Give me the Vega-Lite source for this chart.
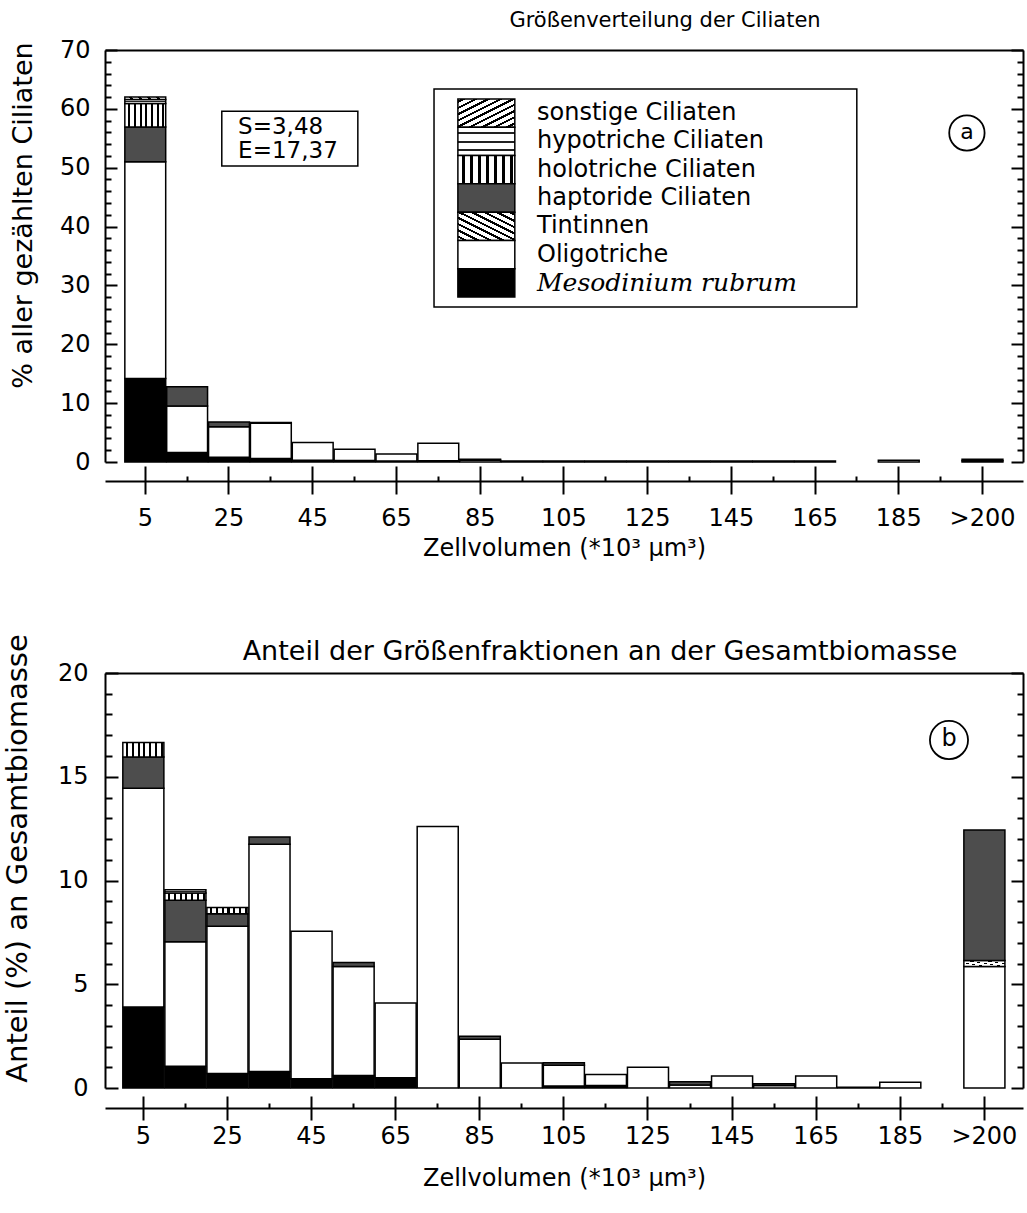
{
  "$schema": "https://vega.github.io/schema/vega-lite/v6.json",
  "autosize": {"type": "pad"},
  "padding": {"left": 2, "top": 10, "right": 4, "bottom": 4},
  "background": "white",
  "config": {
    "font": "DejaVu Sans",
    "view": {"stroke": null},
    "axis": {
      "domainColor": "#000", "tickColor": "#000", "labelColor": "#000", "titleColor": "#000",
      "titleFontWeight": "normal", "grid": false, "labelFontSize": 24, "titleFontSize": 24,
      "domainWidth": 2, "tickWidth": 2, "labelFont": "DejaVu Sans", "titleFont": "DejaVu Sans",
      "labelOverlap": false, "labelFlush": false
    },
    "title": {"fontWeight": "normal", "color": "#000", "font": "DejaVu Sans"},
    "text": {"font": "DejaVu Sans", "color": "#000"}
  },
  "datasets": {
    "anteilA": [
      {"von": 0, "bis": 10, "Gruppe": "Mesodinium rubrum", "k": 1, "Anteil": 14.2},
      {"von": 0, "bis": 10, "Gruppe": "Oligotriche", "k": 2, "Anteil": 36.8},
      {"von": 0, "bis": 10, "Gruppe": "haptoride Ciliaten", "k": 4, "Anteil": 5.9},
      {"von": 0, "bis": 10, "Gruppe": "holotriche Ciliaten", "k": 5, "Anteil": 4.0},
      {"von": 0, "bis": 10, "Gruppe": "hypotriche Ciliaten", "k": 6, "Anteil": 0.7},
      {"von": 0, "bis": 10, "Gruppe": "sonstige Ciliaten", "k": 7, "Anteil": 0.4},
      {"von": 10, "bis": 20, "Gruppe": "Mesodinium rubrum", "k": 1, "Anteil": 1.6},
      {"von": 10, "bis": 20, "Gruppe": "Oligotriche", "k": 2, "Anteil": 7.9},
      {"von": 10, "bis": 20, "Gruppe": "haptoride Ciliaten", "k": 4, "Anteil": 3.3},
      {"von": 20, "bis": 30, "Gruppe": "Mesodinium rubrum", "k": 1, "Anteil": 0.8},
      {"von": 20, "bis": 30, "Gruppe": "Oligotriche", "k": 2, "Anteil": 5.2},
      {"von": 20, "bis": 30, "Gruppe": "haptoride Ciliaten", "k": 4, "Anteil": 0.8},
      {"von": 30, "bis": 40, "Gruppe": "Mesodinium rubrum", "k": 1, "Anteil": 0.6},
      {"von": 30, "bis": 40, "Gruppe": "Oligotriche", "k": 2, "Anteil": 6.0},
      {"von": 30, "bis": 40, "Gruppe": "haptoride Ciliaten", "k": 4, "Anteil": 0.1},
      {"von": 40, "bis": 50, "Gruppe": "Mesodinium rubrum", "k": 1, "Anteil": 0.3},
      {"von": 40, "bis": 50, "Gruppe": "Oligotriche", "k": 2, "Anteil": 3.0},
      {"von": 50, "bis": 60, "Gruppe": "Mesodinium rubrum", "k": 1, "Anteil": 0.25},
      {"von": 50, "bis": 60, "Gruppe": "Oligotriche", "k": 2, "Anteil": 1.9},
      {"von": 60, "bis": 70, "Gruppe": "Mesodinium rubrum", "k": 1, "Anteil": 0.15},
      {"von": 60, "bis": 70, "Gruppe": "Oligotriche", "k": 2, "Anteil": 1.2},
      {"von": 70, "bis": 80, "Gruppe": "Mesodinium rubrum", "k": 1, "Anteil": 0.2},
      {"von": 70, "bis": 80, "Gruppe": "Oligotriche", "k": 2, "Anteil": 3.0},
      {"von": 80, "bis": 90, "Gruppe": "Oligotriche", "k": 2, "Anteil": 0.3},
      {"von": 80, "bis": 90, "Gruppe": "haptoride Ciliaten", "k": 4, "Anteil": 0.15},
      {"von": 90, "bis": 100, "Gruppe": "Oligotriche", "k": 2, "Anteil": 0.15},
      {"von": 100, "bis": 110, "Gruppe": "Oligotriche", "k": 2, "Anteil": 0.15},
      {"von": 110, "bis": 120, "Gruppe": "Oligotriche", "k": 2, "Anteil": 0.15},
      {"von": 120, "bis": 130, "Gruppe": "Oligotriche", "k": 2, "Anteil": 0.15},
      {"von": 130, "bis": 140, "Gruppe": "Oligotriche", "k": 2, "Anteil": 0.15},
      {"von": 140, "bis": 150, "Gruppe": "Oligotriche", "k": 2, "Anteil": 0.15},
      {"von": 150, "bis": 160, "Gruppe": "Oligotriche", "k": 2, "Anteil": 0.15},
      {"von": 160, "bis": 170, "Gruppe": "Oligotriche", "k": 2, "Anteil": 0.15},
      {"von": 180, "bis": 190, "Gruppe": "Oligotriche", "k": 2, "Anteil": 0.3},
      {"von": 200, "bis": 210, "Gruppe": "Oligotriche", "k": 2, "Anteil": 0.2},
      {"von": 200, "bis": 210, "Gruppe": "haptoride Ciliaten", "k": 4, "Anteil": 0.25}
    ],
    "anteilB": [
      {"von": 0, "bis": 10, "Gruppe": "Mesodinium rubrum", "k": 1, "Anteil": 3.9},
      {"von": 0, "bis": 10, "Gruppe": "Oligotriche", "k": 2, "Anteil": 10.55},
      {"von": 0, "bis": 10, "Gruppe": "haptoride Ciliaten", "k": 4, "Anteil": 1.5},
      {"von": 0, "bis": 10, "Gruppe": "holotriche Ciliaten", "k": 5, "Anteil": 0.7},
      {"von": 10, "bis": 20, "Gruppe": "Mesodinium rubrum", "k": 1, "Anteil": 1.05},
      {"von": 10, "bis": 20, "Gruppe": "Oligotriche", "k": 2, "Anteil": 6.0},
      {"von": 10, "bis": 20, "Gruppe": "haptoride Ciliaten", "k": 4, "Anteil": 2.0},
      {"von": 10, "bis": 20, "Gruppe": "holotriche Ciliaten", "k": 5, "Anteil": 0.35},
      {"von": 10, "bis": 20, "Gruppe": "hypotriche Ciliaten", "k": 6, "Anteil": 0.15},
      {"von": 20, "bis": 30, "Gruppe": "Mesodinium rubrum", "k": 1, "Anteil": 0.7},
      {"von": 20, "bis": 30, "Gruppe": "Oligotriche", "k": 2, "Anteil": 7.1},
      {"von": 20, "bis": 30, "Gruppe": "haptoride Ciliaten", "k": 4, "Anteil": 0.6},
      {"von": 20, "bis": 30, "Gruppe": "holotriche Ciliaten", "k": 5, "Anteil": 0.3},
      {"von": 30, "bis": 40, "Gruppe": "Mesodinium rubrum", "k": 1, "Anteil": 0.8},
      {"von": 30, "bis": 40, "Gruppe": "Oligotriche", "k": 2, "Anteil": 10.95},
      {"von": 30, "bis": 40, "Gruppe": "haptoride Ciliaten", "k": 4, "Anteil": 0.35},
      {"von": 40, "bis": 50, "Gruppe": "Mesodinium rubrum", "k": 1, "Anteil": 0.45},
      {"von": 40, "bis": 50, "Gruppe": "Oligotriche", "k": 2, "Anteil": 7.1},
      {"von": 50, "bis": 60, "Gruppe": "Mesodinium rubrum", "k": 1, "Anteil": 0.6},
      {"von": 50, "bis": 60, "Gruppe": "Oligotriche", "k": 2, "Anteil": 5.25},
      {"von": 50, "bis": 60, "Gruppe": "haptoride Ciliaten", "k": 4, "Anteil": 0.2},
      {"von": 60, "bis": 70, "Gruppe": "Mesodinium rubrum", "k": 1, "Anteil": 0.5},
      {"von": 60, "bis": 70, "Gruppe": "Oligotriche", "k": 2, "Anteil": 3.6},
      {"von": 70, "bis": 80, "Gruppe": "Oligotriche", "k": 2, "Anteil": 12.6},
      {"von": 80, "bis": 90, "Gruppe": "Oligotriche", "k": 2, "Anteil": 2.35},
      {"von": 80, "bis": 90, "Gruppe": "haptoride Ciliaten", "k": 4, "Anteil": 0.15},
      {"von": 90, "bis": 100, "Gruppe": "Oligotriche", "k": 2, "Anteil": 1.2},
      {"von": 100, "bis": 110, "Gruppe": "Mesodinium rubrum", "k": 1, "Anteil": 0.1},
      {"von": 100, "bis": 110, "Gruppe": "Oligotriche", "k": 2, "Anteil": 1.0},
      {"von": 100, "bis": 110, "Gruppe": "haptoride Ciliaten", "k": 4, "Anteil": 0.12},
      {"von": 110, "bis": 120, "Gruppe": "Mesodinium rubrum", "k": 1, "Anteil": 0.12},
      {"von": 110, "bis": 120, "Gruppe": "Oligotriche", "k": 2, "Anteil": 0.53},
      {"von": 120, "bis": 130, "Gruppe": "Oligotriche", "k": 2, "Anteil": 1.0},
      {"von": 130, "bis": 140, "Gruppe": "Oligotriche", "k": 2, "Anteil": 0.15},
      {"von": 130, "bis": 140, "Gruppe": "haptoride Ciliaten", "k": 4, "Anteil": 0.15},
      {"von": 140, "bis": 150, "Gruppe": "Oligotriche", "k": 2, "Anteil": 0.58},
      {"von": 150, "bis": 160, "Gruppe": "Oligotriche", "k": 2, "Anteil": 0.12},
      {"von": 150, "bis": 160, "Gruppe": "haptoride Ciliaten", "k": 4, "Anteil": 0.08},
      {"von": 160, "bis": 170, "Gruppe": "Oligotriche", "k": 2, "Anteil": 0.58},
      {"von": 170, "bis": 180, "Gruppe": "Oligotriche", "k": 2, "Anteil": 0.04},
      {"von": 180, "bis": 190, "Gruppe": "Oligotriche", "k": 2, "Anteil": 0.28},
      {"von": 200, "bis": 210, "Gruppe": "Oligotriche", "k": 2, "Anteil": 5.85},
      {"von": 200, "bis": 210, "Gruppe": "Tintinnen", "k": 3, "Anteil": 0.3},
      {"von": 200, "bis": 210, "Gruppe": "haptoride Ciliaten", "k": 4, "Anteil": 6.28}
    ],
    "legende": [
      {"Gruppe": "sonstige Ciliaten"},
      {"Gruppe": "hypotriche Ciliaten"},
      {"Gruppe": "holotriche Ciliaten"},
      {"Gruppe": "haptoride Ciliaten"},
      {"Gruppe": "Tintinnen"},
      {"Gruppe": "Oligotriche"},
      {"Gruppe": "Mesodinium rubrum"}
    ]
  },
  "vconcat": [
    {
      "width": 918,
      "height": 412,
      "title": {"text": "Größenverteilung der Ciliaten", "fontSize": 21, "dx": 101, "offset": 7},
      "data": {"name": "anteilA"},
      "resolve": {"scale": {"y": "independent"}, "axis": {"x": "independent", "y": "independent"}},
      "layer": [
        {
          "resolve": {"axis": {"x": "independent", "y": "independent"}},
          "layer": [
            {
              "mark": {"type": "bar", "orient": "vertical", "stroke": "#000", "strokeWidth": 1.5},
              "encoding": {
                "x": {"field": "von", "type": "quantitative", "bin": "binned",
                  "scale": {"domain": [-4.5, 214.8], "nice": false, "zero": false},
                  "axis": {"orient": "bottom", "offset": 19, "values": [5, 25, 45, 65, 85, 105, 125, 145, 165, 185, 205],
                    "tickSize": 13, "labelPadding": 12, "labelExpr": "datum.value > 200 ? '>200' : datum.label",
                    "title": "Zellvolumen (*10³ µm³)", "titlePadding": 6}},
                "x2": {"field": "bis"},
                "y": {"field": "Anteil", "type": "quantitative", "stack": "zero",
                  "scale": {"domain": [0, 70], "nice": false},
                  "axis": {"orient": "left", "values": [0, 10, 20, 30, 40, 50, 60, 70], "tickSize": -12, "labelPadding": 27,
                    "title": "% aller gezählten Ciliaten", "titleFontSize": 27, "titleAngle": -90, "titleX": -82, "titleY": 165,
                    "titleAlign": "center", "titleBaseline": "middle"}},
                "detail": {"field": "Gruppe"},
                "order": {"field": "k", "type": "quantitative"},
                "fill": {
                  "condition": [
                    {"test": "datum.Gruppe === 'Mesodinium rubrum'", "value": "#000"},
                    {"test": "datum.Gruppe === 'Tintinnen'", "value": {"gradient": "linear", "x1": 1, "y1": 0, "x2": 0, "y2": 1, "stops": [
                      {"offset": 0, "color": "#fff"}, {"offset": 0.03, "color": "#fff"}, {"offset": 0.03, "color": "#000"}, {"offset": 0.07, "color": "#000"}, {"offset": 0.07, "color": "#fff"},
                      {"offset": 0.14, "color": "#fff"}, {"offset": 0.14, "color": "#000"}, {"offset": 0.18, "color": "#000"}, {"offset": 0.18, "color": "#fff"},
                      {"offset": 0.25, "color": "#fff"}, {"offset": 0.25, "color": "#000"}, {"offset": 0.29, "color": "#000"}, {"offset": 0.29, "color": "#fff"},
                      {"offset": 0.36, "color": "#fff"}, {"offset": 0.36, "color": "#000"}, {"offset": 0.4, "color": "#000"}, {"offset": 0.4, "color": "#fff"},
                      {"offset": 0.47, "color": "#fff"}, {"offset": 0.47, "color": "#000"}, {"offset": 0.51, "color": "#000"}, {"offset": 0.51, "color": "#fff"},
                      {"offset": 0.58, "color": "#fff"}, {"offset": 0.58, "color": "#000"}, {"offset": 0.62, "color": "#000"}, {"offset": 0.62, "color": "#fff"},
                      {"offset": 0.69, "color": "#fff"}, {"offset": 0.69, "color": "#000"}, {"offset": 0.73, "color": "#000"}, {"offset": 0.73, "color": "#fff"},
                      {"offset": 0.8, "color": "#fff"}, {"offset": 0.8, "color": "#000"}, {"offset": 0.84, "color": "#000"}, {"offset": 0.84, "color": "#fff"},
                      {"offset": 0.91, "color": "#fff"}, {"offset": 0.91, "color": "#000"}, {"offset": 0.95, "color": "#000"}, {"offset": 0.95, "color": "#fff"},
                      {"offset": 1, "color": "#fff"}]}},
                    {"test": "datum.Gruppe === 'haptoride Ciliaten'", "value": "#4d4d4d"},
                    {"test": "datum.Gruppe === 'holotriche Ciliaten'", "value": {"gradient": "linear", "x1": 0, "y1": 0, "x2": 1, "y2": 0, "stops": [
                      {"offset": 0, "color": "#fff"}, {"offset": 0.08, "color": "#fff"}, {"offset": 0.08, "color": "#000"}, {"offset": 0.13, "color": "#000"}, {"offset": 0.13, "color": "#fff"},
                      {"offset": 0.22, "color": "#fff"}, {"offset": 0.22, "color": "#000"}, {"offset": 0.27, "color": "#000"}, {"offset": 0.27, "color": "#fff"},
                      {"offset": 0.36, "color": "#fff"}, {"offset": 0.36, "color": "#000"}, {"offset": 0.41, "color": "#000"}, {"offset": 0.41, "color": "#fff"},
                      {"offset": 0.5, "color": "#fff"}, {"offset": 0.5, "color": "#000"}, {"offset": 0.55, "color": "#000"}, {"offset": 0.55, "color": "#fff"},
                      {"offset": 0.64, "color": "#fff"}, {"offset": 0.64, "color": "#000"}, {"offset": 0.69, "color": "#000"}, {"offset": 0.69, "color": "#fff"},
                      {"offset": 0.78, "color": "#fff"}, {"offset": 0.78, "color": "#000"}, {"offset": 0.83, "color": "#000"}, {"offset": 0.83, "color": "#fff"},
                      {"offset": 0.92, "color": "#fff"}, {"offset": 0.92, "color": "#000"}, {"offset": 0.97, "color": "#000"}, {"offset": 0.97, "color": "#fff"},
                      {"offset": 1, "color": "#fff"}]}},
                    {"test": "datum.Gruppe === 'hypotriche Ciliaten'", "value": {"gradient": "linear", "x1": 0, "y1": 0, "x2": 0, "y2": 1, "stops": [
                      {"offset": 0, "color": "#fff"}, {"offset": 0.18, "color": "#fff"}, {"offset": 0.18, "color": "#222"}, {"offset": 0.25, "color": "#222"}, {"offset": 0.25, "color": "#fff"},
                      {"offset": 0.47, "color": "#fff"}, {"offset": 0.47, "color": "#222"}, {"offset": 0.54, "color": "#222"}, {"offset": 0.54, "color": "#fff"},
                      {"offset": 0.76, "color": "#fff"}, {"offset": 0.76, "color": "#222"}, {"offset": 0.83, "color": "#222"}, {"offset": 0.83, "color": "#fff"},
                      {"offset": 1, "color": "#fff"}]}},
                    {"test": "datum.Gruppe === 'sonstige Ciliaten'", "value": {"gradient": "linear", "x1": 0, "y1": 0, "x2": 1, "y2": 1, "stops": [
                      {"offset": 0, "color": "#fff"}, {"offset": 0.03, "color": "#fff"}, {"offset": 0.03, "color": "#000"}, {"offset": 0.07, "color": "#000"}, {"offset": 0.07, "color": "#fff"},
                      {"offset": 0.14, "color": "#fff"}, {"offset": 0.14, "color": "#000"}, {"offset": 0.18, "color": "#000"}, {"offset": 0.18, "color": "#fff"},
                      {"offset": 0.25, "color": "#fff"}, {"offset": 0.25, "color": "#000"}, {"offset": 0.29, "color": "#000"}, {"offset": 0.29, "color": "#fff"},
                      {"offset": 0.36, "color": "#fff"}, {"offset": 0.36, "color": "#000"}, {"offset": 0.4, "color": "#000"}, {"offset": 0.4, "color": "#fff"},
                      {"offset": 0.47, "color": "#fff"}, {"offset": 0.47, "color": "#000"}, {"offset": 0.51, "color": "#000"}, {"offset": 0.51, "color": "#fff"},
                      {"offset": 0.58, "color": "#fff"}, {"offset": 0.58, "color": "#000"}, {"offset": 0.62, "color": "#000"}, {"offset": 0.62, "color": "#fff"},
                      {"offset": 0.69, "color": "#fff"}, {"offset": 0.69, "color": "#000"}, {"offset": 0.73, "color": "#000"}, {"offset": 0.73, "color": "#fff"},
                      {"offset": 0.8, "color": "#fff"}, {"offset": 0.8, "color": "#000"}, {"offset": 0.84, "color": "#000"}, {"offset": 0.84, "color": "#fff"},
                      {"offset": 0.91, "color": "#fff"}, {"offset": 0.91, "color": "#000"}, {"offset": 0.95, "color": "#000"}, {"offset": 0.95, "color": "#fff"},
                      {"offset": 1, "color": "#fff"}]}}
                  ],
                  "value": "#fff"
                }
              }
            },
            {
              "mark": {"type": "point", "opacity": 0},
              "encoding": {
                "x": {"field": "von", "type": "quantitative",
                  "axis": {"orient": "bottom", "offset": 19, "values": [5, 25, 45, 65, 85, 105, 125, 145, 165, 185, 205], "tickSize": -15, "labels": false, "domain": false, "title": null}},
                "y": {"field": "Anteil", "type": "quantitative",
                  "axis": {"orient": "left", "values": [2, 4, 6, 8, 12, 14, 16, 18, 22, 24, 26, 28, 32, 34, 36, 38, 42, 44, 46, 48, 52, 54, 56, 58, 62, 64, 66, 68], "tickSize": -6, "labels": false, "domain": false, "title": null}}
              }
            },
            {
              "mark": {"type": "point", "opacity": 0},
              "encoding": {
                "x": {"field": "von", "type": "quantitative",
                  "axis": {"orient": "bottom", "offset": 19, "values": [15, 35, 55, 75, 95, 115, 135, 155, 175, 195], "tickSize": -5, "labels": false, "domain": false, "title": null}},
                "y": {"field": "Anteil", "type": "quantitative",
                  "axis": {"orient": "right", "values": [0, 10, 20, 30, 40, 50, 60, 70], "tickSize": -12, "labels": false, "domain": true, "title": null}}
              }
            },
            {
              "mark": {"type": "point", "opacity": 0},
              "encoding": {
                "x": {"field": "von", "type": "quantitative",
                  "axis": {"orient": "top", "ticks": false, "labels": false, "domain": true, "title": null}},
                "y": {"field": "Anteil", "type": "quantitative",
                  "axis": {"orient": "right", "values": [2, 4, 6, 8, 12, 14, 16, 18, 22, 24, 26, 28, 32, 34, 36, 38, 42, 44, 46, 48, 52, 54, 56, 58, 62, 64, 66, 68], "tickSize": -6, "labels": false, "domain": false, "title": null}}
              }
            },
            {
              "data": {"values": [{}]},
              "mark": {"type": "rect", "fill": null, "stroke": "#000", "strokeWidth": 1.5},
              "encoding": {
                "x": {"datum": 23.4, "axis": null}, "x2": {"datum": 55.9},
                "y": {"datum": 50.3, "axis": null}, "y2": {"datum": 59.6}
              }
            },
            {
              "data": {"values": [{}]},
              "mark": {"type": "text", "align": "left", "baseline": "middle", "fontSize": 23, "lineHeight": 24},
              "encoding": {
                "x": {"datum": 27.3, "axis": null},
                "y": {"datum": 56.9, "axis": null},
                "text": {"value": ["S=3,48", "E=17,37"]}
              }
            },
            {
              "data": {"values": [{"Teil": "a"}]},
              "layer": [
                {"mark": {"type": "point", "shape": "circle", "size": 1250, "filled": false, "stroke": "#000", "strokeWidth": 1.8, "opacity": 1}},
                {"mark": {"type": "text", "fontSize": 22, "baseline": "middle", "align": "center", "dy": -1}, "encoding": {"text": {"field": "Teil"}}}
              ],
              "encoding": {
                "x": {"datum": 201.4, "axis": null},
                "y": {"datum": 55.9, "axis": null}
              }
            },
            {
              "data": {"values": [{}]},
              "mark": {"type": "rect", "fill": null, "stroke": "#000", "strokeWidth": 1.5},
              "encoding": {
                "x": {"datum": 74.1, "axis": null}, "x2": {"datum": 175.1},
                "y": {"datum": 26.33, "axis": null}, "y2": {"datum": 63.37}
              }
            }
          ]
        },
        {
          "data": {"name": "legende"},
          "layer": [
            {
              "mark": {"type": "bar", "stroke": "#000", "strokeWidth": 1.5},
              "encoding": {
                "x": {"datum": 79.8, "axis": null},
                "x2": {"datum": 93.4},
                "y": {"field": "Gruppe", "type": "nominal", "sort": null,
                  "scale": {"domain": ["sonstige Ciliaten", "hypotriche Ciliaten", "holotriche Ciliaten", "haptoride Ciliaten", "Tintinnen", "Oligotriche", "Mesodinium rubrum"],
                    "paddingInner": 0, "paddingOuter": 0, "range": [49, 247]},
                  "axis": null},
                "fill": {
                  "condition": [
                    {"test": "datum.Gruppe === 'Mesodinium rubrum'", "value": "#000"},
                    {"test": "datum.Gruppe === 'Tintinnen'", "value": {"gradient": "linear", "x1": 1, "y1": 0, "x2": 0, "y2": 1, "stops": [
                      {"offset": 0, "color": "#fff"}, {"offset": 0.03, "color": "#fff"}, {"offset": 0.03, "color": "#000"}, {"offset": 0.07, "color": "#000"}, {"offset": 0.07, "color": "#fff"},
                      {"offset": 0.14, "color": "#fff"}, {"offset": 0.14, "color": "#000"}, {"offset": 0.18, "color": "#000"}, {"offset": 0.18, "color": "#fff"},
                      {"offset": 0.25, "color": "#fff"}, {"offset": 0.25, "color": "#000"}, {"offset": 0.29, "color": "#000"}, {"offset": 0.29, "color": "#fff"},
                      {"offset": 0.36, "color": "#fff"}, {"offset": 0.36, "color": "#000"}, {"offset": 0.4, "color": "#000"}, {"offset": 0.4, "color": "#fff"},
                      {"offset": 0.47, "color": "#fff"}, {"offset": 0.47, "color": "#000"}, {"offset": 0.51, "color": "#000"}, {"offset": 0.51, "color": "#fff"},
                      {"offset": 0.58, "color": "#fff"}, {"offset": 0.58, "color": "#000"}, {"offset": 0.62, "color": "#000"}, {"offset": 0.62, "color": "#fff"},
                      {"offset": 0.69, "color": "#fff"}, {"offset": 0.69, "color": "#000"}, {"offset": 0.73, "color": "#000"}, {"offset": 0.73, "color": "#fff"},
                      {"offset": 0.8, "color": "#fff"}, {"offset": 0.8, "color": "#000"}, {"offset": 0.84, "color": "#000"}, {"offset": 0.84, "color": "#fff"},
                      {"offset": 0.91, "color": "#fff"}, {"offset": 0.91, "color": "#000"}, {"offset": 0.95, "color": "#000"}, {"offset": 0.95, "color": "#fff"},
                      {"offset": 1, "color": "#fff"}]}},
                    {"test": "datum.Gruppe === 'haptoride Ciliaten'", "value": "#4d4d4d"},
                    {"test": "datum.Gruppe === 'holotriche Ciliaten'", "value": {"gradient": "linear", "x1": 0, "y1": 0, "x2": 1, "y2": 0, "stops": [
                      {"offset": 0, "color": "#fff"}, {"offset": 0.08, "color": "#fff"}, {"offset": 0.08, "color": "#000"}, {"offset": 0.13, "color": "#000"}, {"offset": 0.13, "color": "#fff"},
                      {"offset": 0.22, "color": "#fff"}, {"offset": 0.22, "color": "#000"}, {"offset": 0.27, "color": "#000"}, {"offset": 0.27, "color": "#fff"},
                      {"offset": 0.36, "color": "#fff"}, {"offset": 0.36, "color": "#000"}, {"offset": 0.41, "color": "#000"}, {"offset": 0.41, "color": "#fff"},
                      {"offset": 0.5, "color": "#fff"}, {"offset": 0.5, "color": "#000"}, {"offset": 0.55, "color": "#000"}, {"offset": 0.55, "color": "#fff"},
                      {"offset": 0.64, "color": "#fff"}, {"offset": 0.64, "color": "#000"}, {"offset": 0.69, "color": "#000"}, {"offset": 0.69, "color": "#fff"},
                      {"offset": 0.78, "color": "#fff"}, {"offset": 0.78, "color": "#000"}, {"offset": 0.83, "color": "#000"}, {"offset": 0.83, "color": "#fff"},
                      {"offset": 0.92, "color": "#fff"}, {"offset": 0.92, "color": "#000"}, {"offset": 0.97, "color": "#000"}, {"offset": 0.97, "color": "#fff"},
                      {"offset": 1, "color": "#fff"}]}},
                    {"test": "datum.Gruppe === 'hypotriche Ciliaten'", "value": {"gradient": "linear", "x1": 0, "y1": 0, "x2": 0, "y2": 1, "stops": [
                      {"offset": 0, "color": "#fff"}, {"offset": 0.18, "color": "#fff"}, {"offset": 0.18, "color": "#222"}, {"offset": 0.25, "color": "#222"}, {"offset": 0.25, "color": "#fff"},
                      {"offset": 0.47, "color": "#fff"}, {"offset": 0.47, "color": "#222"}, {"offset": 0.54, "color": "#222"}, {"offset": 0.54, "color": "#fff"},
                      {"offset": 0.76, "color": "#fff"}, {"offset": 0.76, "color": "#222"}, {"offset": 0.83, "color": "#222"}, {"offset": 0.83, "color": "#fff"},
                      {"offset": 1, "color": "#fff"}]}},
                    {"test": "datum.Gruppe === 'sonstige Ciliaten'", "value": {"gradient": "linear", "x1": 0, "y1": 0, "x2": 1, "y2": 1, "stops": [
                      {"offset": 0, "color": "#fff"}, {"offset": 0.03, "color": "#fff"}, {"offset": 0.03, "color": "#000"}, {"offset": 0.07, "color": "#000"}, {"offset": 0.07, "color": "#fff"},
                      {"offset": 0.14, "color": "#fff"}, {"offset": 0.14, "color": "#000"}, {"offset": 0.18, "color": "#000"}, {"offset": 0.18, "color": "#fff"},
                      {"offset": 0.25, "color": "#fff"}, {"offset": 0.25, "color": "#000"}, {"offset": 0.29, "color": "#000"}, {"offset": 0.29, "color": "#fff"},
                      {"offset": 0.36, "color": "#fff"}, {"offset": 0.36, "color": "#000"}, {"offset": 0.4, "color": "#000"}, {"offset": 0.4, "color": "#fff"},
                      {"offset": 0.47, "color": "#fff"}, {"offset": 0.47, "color": "#000"}, {"offset": 0.51, "color": "#000"}, {"offset": 0.51, "color": "#fff"},
                      {"offset": 0.58, "color": "#fff"}, {"offset": 0.58, "color": "#000"}, {"offset": 0.62, "color": "#000"}, {"offset": 0.62, "color": "#fff"},
                      {"offset": 0.69, "color": "#fff"}, {"offset": 0.69, "color": "#000"}, {"offset": 0.73, "color": "#000"}, {"offset": 0.73, "color": "#fff"},
                      {"offset": 0.8, "color": "#fff"}, {"offset": 0.8, "color": "#000"}, {"offset": 0.84, "color": "#000"}, {"offset": 0.84, "color": "#fff"},
                      {"offset": 0.91, "color": "#fff"}, {"offset": 0.91, "color": "#000"}, {"offset": 0.95, "color": "#000"}, {"offset": 0.95, "color": "#fff"},
                      {"offset": 1, "color": "#fff"}]}}
                  ],
                  "value": "#fff"
                }
              }
            },
            {
              "transform": [{"filter": "datum.Gruppe !== 'Mesodinium rubrum'"}],
              "mark": {"type": "text", "align": "left", "baseline": "middle", "fontSize": 24},
              "encoding": {
                "x": {"datum": 98.7, "axis": null},
                "y": {"field": "Gruppe", "type": "nominal", "axis": null},
                "text": {"field": "Gruppe"}
              }
            },
            {
              "transform": [{"filter": "datum.Gruppe === 'Mesodinium rubrum'"}],
              "mark": {"type": "text", "align": "left", "baseline": "middle", "fontSize": 25, "font": "DejaVu Serif", "fontStyle": "italic"},
              "encoding": {
                "x": {"datum": 98.7, "axis": null},
                "y": {"field": "Gruppe", "type": "nominal", "axis": null},
                "text": {"field": "Gruppe"}
              }
            }
          ]
        }
      ]
    },
    {
      "width": 918,
      "height": 415,
      "title": {"text": "Anteil der Größenfraktionen an der Gesamtbiomasse", "fontSize": 27, "dx": 36, "offset": 0, "dy": 32},
      "data": {"name": "anteilB"},
      "resolve": {"axis": {"x": "independent", "y": "independent"}},
      "layer": [
        {
          "mark": {"type": "bar", "orient": "vertical", "stroke": "#000", "strokeWidth": 1.5},
          "encoding": {
            "x": {"field": "von", "type": "quantitative", "bin": "binned",
              "scale": {"domain": [-4, 214.3], "nice": false, "zero": false},
              "axis": {"orient": "bottom", "offset": 20, "values": [5, 25, 45, 65, 85, 105, 125, 145, 165, 185, 205],
                "tickSize": 12, "labelPadding": 4, "labelExpr": "datum.value > 200 ? '>200' : datum.label",
                "title": "Zellvolumen (*10³ µm³)", "titlePadding": 18}},
            "x2": {"field": "bis"},
            "y": {"field": "Anteil", "type": "quantitative", "stack": "zero",
              "scale": {"domain": [0, 20], "nice": false},
              "axis": {"orient": "left", "values": [0, 5, 10, 15, 20], "tickSize": -13, "labelPadding": 30,
                "title": "Anteil (%) an Gesamtbiomasse", "titleFontSize": 29, "titleAngle": -90, "titleX": -88, "titleY": 185,
                "titleAlign": "center", "titleBaseline": "middle"}},
            "detail": {"field": "Gruppe"},
            "order": {"field": "k", "type": "quantitative"},
            "fill": {
              "condition": [
                {"test": "datum.Gruppe === 'Mesodinium rubrum'", "value": "#000"},
                {"test": "datum.Gruppe === 'Tintinnen'", "value": {"gradient": "linear", "x1": 1, "y1": 0, "x2": 0, "y2": 1, "stops": [
                  {"offset": 0, "color": "#fff"}, {"offset": 0.03, "color": "#fff"}, {"offset": 0.03, "color": "#000"}, {"offset": 0.07, "color": "#000"}, {"offset": 0.07, "color": "#fff"},
                  {"offset": 0.25, "color": "#fff"}, {"offset": 0.25, "color": "#000"}, {"offset": 0.29, "color": "#000"}, {"offset": 0.29, "color": "#fff"},
                  {"offset": 0.47, "color": "#fff"}, {"offset": 0.47, "color": "#000"}, {"offset": 0.51, "color": "#000"}, {"offset": 0.51, "color": "#fff"},
                  {"offset": 0.69, "color": "#fff"}, {"offset": 0.69, "color": "#000"}, {"offset": 0.73, "color": "#000"}, {"offset": 0.73, "color": "#fff"},
                  {"offset": 0.91, "color": "#fff"}, {"offset": 0.91, "color": "#000"}, {"offset": 0.95, "color": "#000"}, {"offset": 0.95, "color": "#fff"},
                  {"offset": 1, "color": "#fff"}]}},
                {"test": "datum.Gruppe === 'haptoride Ciliaten'", "value": "#4d4d4d"},
                {"test": "datum.Gruppe === 'holotriche Ciliaten'", "value": {"gradient": "linear", "x1": 0, "y1": 0, "x2": 1, "y2": 0, "stops": [
                  {"offset": 0, "color": "#fff"}, {"offset": 0.08, "color": "#fff"}, {"offset": 0.08, "color": "#000"}, {"offset": 0.13, "color": "#000"}, {"offset": 0.13, "color": "#fff"},
                  {"offset": 0.22, "color": "#fff"}, {"offset": 0.22, "color": "#000"}, {"offset": 0.27, "color": "#000"}, {"offset": 0.27, "color": "#fff"},
                  {"offset": 0.36, "color": "#fff"}, {"offset": 0.36, "color": "#000"}, {"offset": 0.41, "color": "#000"}, {"offset": 0.41, "color": "#fff"},
                  {"offset": 0.5, "color": "#fff"}, {"offset": 0.5, "color": "#000"}, {"offset": 0.55, "color": "#000"}, {"offset": 0.55, "color": "#fff"},
                  {"offset": 0.64, "color": "#fff"}, {"offset": 0.64, "color": "#000"}, {"offset": 0.69, "color": "#000"}, {"offset": 0.69, "color": "#fff"},
                  {"offset": 0.78, "color": "#fff"}, {"offset": 0.78, "color": "#000"}, {"offset": 0.83, "color": "#000"}, {"offset": 0.83, "color": "#fff"},
                  {"offset": 0.92, "color": "#fff"}, {"offset": 0.92, "color": "#000"}, {"offset": 0.97, "color": "#000"}, {"offset": 0.97, "color": "#fff"},
                  {"offset": 1, "color": "#fff"}]}},
                {"test": "datum.Gruppe === 'hypotriche Ciliaten'", "value": {"gradient": "linear", "x1": 0, "y1": 0, "x2": 0, "y2": 1, "stops": [
                  {"offset": 0, "color": "#fff"}, {"offset": 0.3, "color": "#fff"}, {"offset": 0.3, "color": "#222"}, {"offset": 0.55, "color": "#222"}, {"offset": 0.55, "color": "#fff"},
                  {"offset": 1, "color": "#fff"}]}},
                {"test": "datum.Gruppe === 'sonstige Ciliaten'", "value": "#888"}
              ],
              "value": "#fff"
            }
          }
        },
        {
          "mark": {"type": "point", "opacity": 0},
          "encoding": {
            "x": {"field": "von", "type": "quantitative",
              "axis": {"orient": "bottom", "offset": 20, "values": [5, 25, 45, 65, 85, 105, 125, 145, 165, 185, 205], "tickSize": -12, "labels": false, "domain": false, "title": null}},
            "y": {"field": "Anteil", "type": "quantitative",
              "axis": {"orient": "left", "values": [1, 2, 3, 4, 6, 7, 8, 9, 11, 12, 13, 14, 16, 17, 18, 19], "tickSize": -7, "labels": false, "domain": false, "title": null}}
          }
        },
        {
          "mark": {"type": "point", "opacity": 0},
          "encoding": {
            "x": {"field": "von", "type": "quantitative",
              "axis": {"orient": "bottom", "offset": 20, "values": [15, 35, 55, 75, 95, 115, 135, 155, 175, 195], "tickSize": -5, "labels": false, "domain": false, "title": null}},
            "y": {"field": "Anteil", "type": "quantitative",
              "axis": {"orient": "right", "values": [0, 5, 10, 15, 20], "tickSize": -12, "labels": false, "domain": true, "title": null}}
          }
        },
        {
          "mark": {"type": "point", "opacity": 0},
          "encoding": {
            "x": {"field": "von", "type": "quantitative",
              "axis": {"orient": "top", "ticks": false, "labels": false, "domain": true, "title": null}},
            "y": {"field": "Anteil", "type": "quantitative",
              "axis": {"orient": "right", "values": [1, 2, 3, 4, 6, 7, 8, 9, 11, 12, 13, 14, 16, 17, 18, 19], "tickSize": -6, "labels": false, "domain": false, "title": null}}
          }
        },
        {
          "data": {"values": [{"Teil": "b"}]},
          "layer": [
            {"mark": {"type": "point", "shape": "circle", "size": 1452, "filled": false, "stroke": "#000", "strokeWidth": 1.8, "opacity": 1}},
            {"mark": {"type": "text", "fontSize": 24, "baseline": "middle", "align": "center", "dy": -1}, "encoding": {"text": {"field": "Teil"}}}
          ],
          "encoding": {
            "x": {"datum": 196.7, "axis": null},
            "y": {"datum": 16.77, "axis": null}
          }
        }
      ]
    }
  ],
  "spacing": 211,
  "bounds": "flush"
}
